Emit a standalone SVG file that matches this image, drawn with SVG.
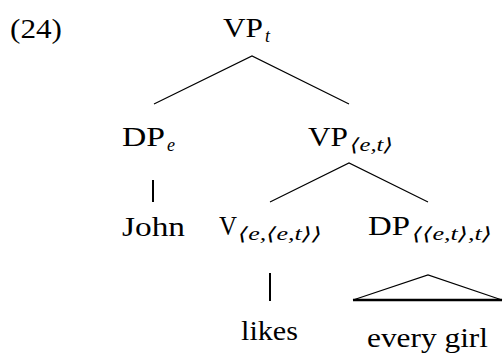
<svg xmlns="http://www.w3.org/2000/svg" width="503" height="354" viewBox="0 0 503 354">
<style>
.t{font-family:"Liberation Serif","DejaVu Serif",serif;font-size:27px;fill:#000}
.s{font-family:"Liberation Serif","DejaVu Serif",serif;font-size:18px;font-style:italic;fill:#000}
.e{stroke:#000;stroke-width:1.2;fill:none}
.v{stroke:#000;stroke-width:2;fill:none}
</style>
<rect width="503" height="354" fill="#fff"/>
<text id="label24" class="t" x="10" y="38" textLength="52" lengthAdjust="spacingAndGlyphs" style="font-size:28px">(24)</text>
<g id="vp_t">
<text class="t" x="223" y="37" textLength="40" lengthAdjust="spacingAndGlyphs">VP</text>
<text class="s" x="265" y="42">t</text>
</g>
<g id="dp_e">
<text class="t" x="122" y="146" textLength="43" lengthAdjust="spacingAndGlyphs">DP</text>
<text class="s" x="167" y="151">e</text>
</g>
<g id="vp_et">
<text class="t" x="308" y="146" textLength="40" lengthAdjust="spacingAndGlyphs">VP</text>
<text class="s" x="350" y="151" textLength="43" lengthAdjust="spacingAndGlyphs">⟨e,t⟩</text>
</g>
<g id="john">
<text class="t" x="122" y="236" textLength="63" lengthAdjust="spacingAndGlyphs">John</text>
</g>
<g id="v_eet">
<text class="t" x="219" y="235" textLength="18" lengthAdjust="spacingAndGlyphs">V</text>
<text class="s" x="238" y="240" textLength="84" lengthAdjust="spacingAndGlyphs">⟨e,⟨e,t⟩⟩</text>
</g>
<g id="dp_ett">
<text class="t" x="368" y="235" textLength="42" lengthAdjust="spacingAndGlyphs">DP</text>
<text class="s" x="412" y="240" textLength="80" lengthAdjust="spacingAndGlyphs">⟨⟨e,t⟩,t⟩</text>
</g>
<g id="likes">
<text class="t" x="241" y="340" textLength="57" lengthAdjust="spacingAndGlyphs">likes</text>
</g>
<g id="every_girl">
<text class="t" x="367" y="347" textLength="121" lengthAdjust="spacingAndGlyphs">every girl</text>
</g>
<g id="connectors">
<polyline class="e" points="154,104 252,56 349,104"/>
<line class="v" x1="153" y1="180" x2="153" y2="202"/>
<polyline class="e" points="270,202 349,163 428,202"/>
<line class="v" x1="270" y1="273" x2="270" y2="301"/>
<polyline class="e" points="353,300 428,275 502,300"/>
<line x1="353" y1="300" x2="502" y2="300" stroke="#000" stroke-width="2.5"/>
</g>
</svg>
